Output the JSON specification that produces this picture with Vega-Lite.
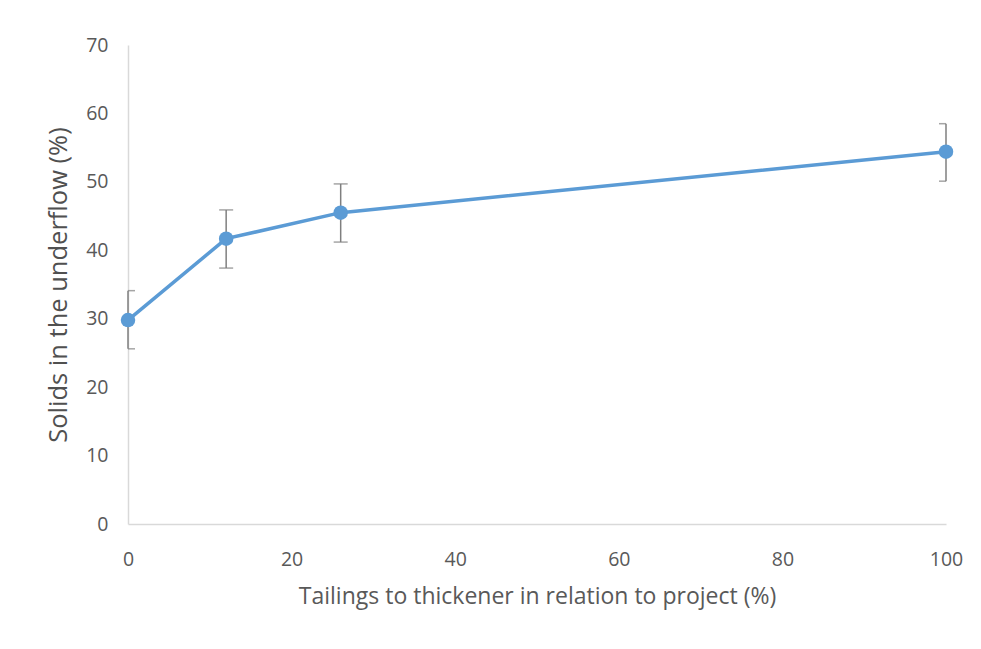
{
  "$schema": "https://vega.github.io/schema/vega-lite/v6.json",
  "autosize": "none",
  "width": 818,
  "height": 479,
  "padding": {"left": 128, "top": 45, "right": 35, "bottom": 125},
  "background": "white",
  "config": {
    "view": {"stroke": null},
    "font": "Open Sans",
    "axis": {
      "labelFont": "Open Sans",
      "titleFont": "Open Sans",
      "labelColor": "#595959",
      "titleColor": "#595959",
      "labelFontSize": 19.5,
      "titleFontSize": 23,
      "titleFontWeight": "normal",
      "domainColor": "#d9d9d9",
      "domainWidth": 1.5,
      "ticks": false,
      "grid": false
    }
  },
  "data": {
    "values": [
      {"x": 0, "y": 29.8, "lo": 25.6, "hi": 34.1},
      {"x": 12, "y": 41.7, "lo": 37.4, "hi": 45.9},
      {"x": 26, "y": 45.5, "lo": 41.2, "hi": 49.7},
      {"x": 100, "y": 54.4, "lo": 50.1, "hi": 58.5}
    ]
  },
  "encoding": {
    "x": {
      "field": "x",
      "type": "quantitative",
      "scale": {"domain": [0, 100], "nice": false},
      "axis": {
        "values": [0, 20, 40, 60, 80, 100],
        "title": "Tailings to thickener in relation to project (%)",
        "labelFlush": false,
        "labelPadding": 26,
        "titlePadding": 17
      }
    }
  },
  "layer": [
    {
      "mark": {"type": "rule", "color": "#7f7f7f", "strokeWidth": 1.5},
      "encoding": {
        "y": {"field": "lo", "type": "quantitative"},
        "y2": {"field": "hi"}
      }
    },
    {
      "mark": {"type": "tick", "orient": "horizontal", "color": "#7f7f7f", "thickness": 1.5, "size": 14, "clip": true},
      "encoding": {"y": {"field": "hi", "type": "quantitative"}}
    },
    {
      "mark": {"type": "tick", "orient": "horizontal", "color": "#7f7f7f", "thickness": 1.5, "size": 14, "clip": true},
      "encoding": {"y": {"field": "lo", "type": "quantitative"}}
    },
    {
      "mark": {"type": "line", "color": "#5B9BD5", "strokeWidth": 3.5},
      "encoding": {
        "y": {
          "field": "y",
          "type": "quantitative",
          "scale": {"domain": [0, 70], "nice": false},
          "axis": {
            "values": [0, 10, 20, 30, 40, 50, 60, 70],
            "title": "Solids in the underflow (%)",
            "titleFontSize": 25.5,
            "titleColor": "#505050",
            "labelPadding": 20,
            "titlePadding": 14
          }
        }
      }
    },
    {
      "mark": {"type": "point", "filled": true, "color": "#5B9BD5", "opacity": 1, "size": 210},
      "encoding": {"y": {"field": "y", "type": "quantitative"}}
    }
  ]
}
